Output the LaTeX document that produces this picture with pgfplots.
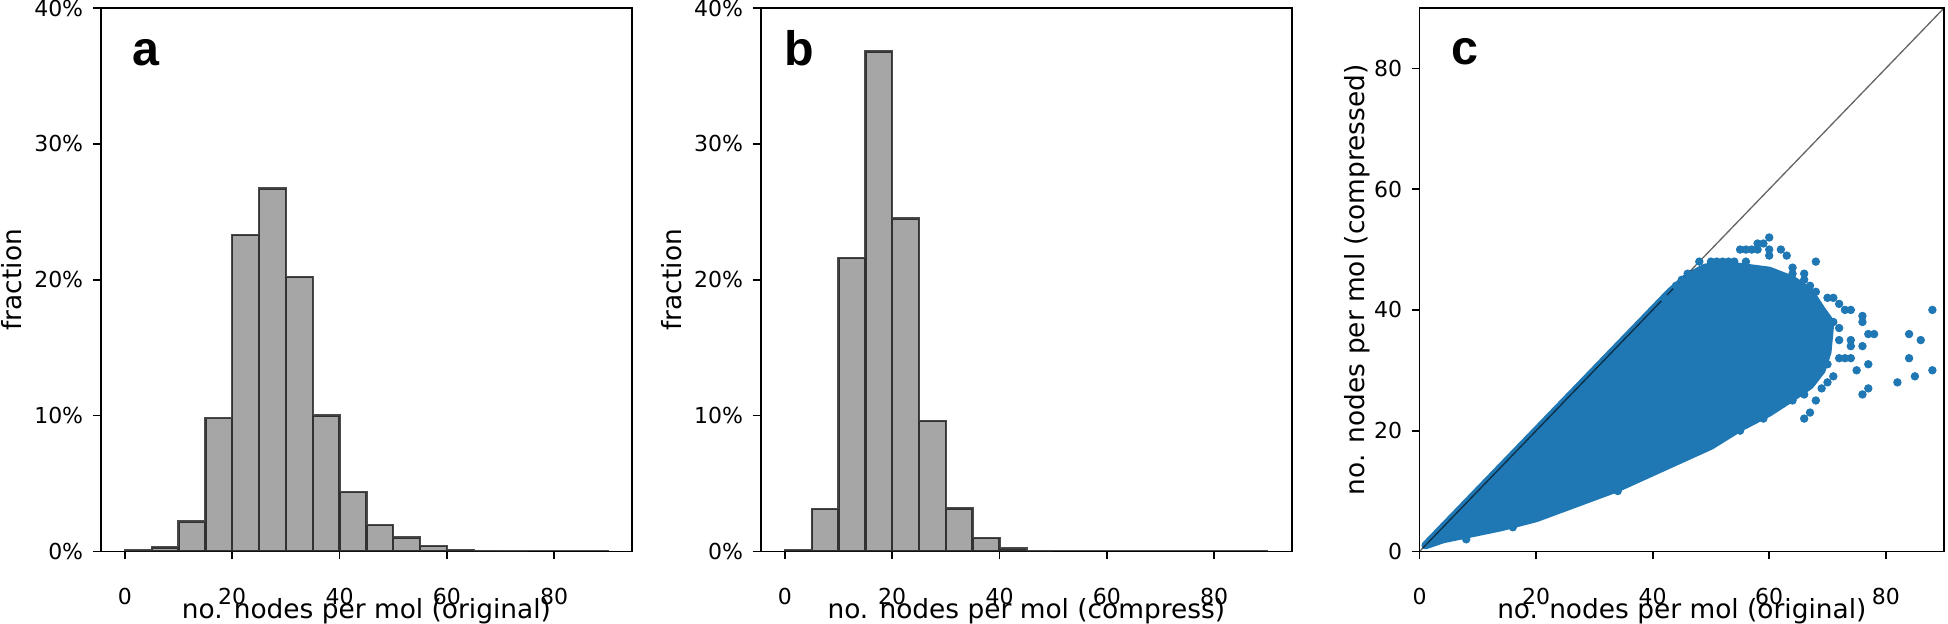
\documentclass[border=0pt]{standalone}
\usepackage{pgfplots}
\pgfplotsset{compat=1.18}
\usepackage{fontspec}
\setmainfont{DejaVu Sans}
\newfontfamily\lib{Liberation Sans}
\definecolor{tabblue}{HTML}{1F77B4}
\definecolor{barfill}{HTML}{A6A6A6}

\tikzset{letter/.style={anchor=base west, inner sep=0pt, font=\lib\bfseries\fontsize{22}{26}\selectfont}}

\pgfplotsset{
  mpl/.style={
    scale only axis,
    anchor=south west,
    axis line style={line width=0.8pt},
    every tick/.style={black, line width=0.8pt},
    tick align=outside,
    major tick length=3.5pt,
    xtick pos=bottom, ytick pos=left,
    xticklabel style={font=\fontsize{10}{12}\selectfont, inner sep=0pt, anchor=north, yshift=-12.8pt},
    yticklabel style={font=\fontsize{10}{12}\selectfont, inner sep=0pt, anchor=east, xshift=-4.3pt},
    every axis x label/.style={font=\fontsize{12}{14}\selectfont, at={([yshift=-30.6pt]axis description cs:0.5,0)}, anchor=base},
    every axis y label/.style={font=\fontsize{12}{14}\selectfont, at={([xshift=-35.95pt]axis description cs:0,0.5)}, rotate=90, anchor=base},
  },
  hist/.style={
    mpl, width=241.5pt, height=247pt,
    xmin=-4.5, xmax=94.5, ymin=0, ymax=40,
    xtick={0,20,40,60,80}, xticklabels={0,20,40,60,80},
    ytick={0,10,20,30,40}, yticklabels={0\%,10\%,20\%,30\%,40\%},
    ylabel={fraction},
  },
}

\pgfplotstableread{
x y
0 0.08
5 0.29
10 2.2
15 9.8
20 23.3
25 26.7
30 20.2
35 10.0
40 4.36
45 1.93
50 1.02
55 0.38
60 0.12
65 0.04
70 0.02
75 0.01
80 0.005
85 0.003
90 0.003
}\histA

\pgfplotstableread{
x y
0 0.1
5 3.13
10 21.6
15 36.8
20 24.5
25 9.6
30 3.16
35 1.0
40 0.2
45 0.03
50 0.01
55 0.005
60 0.002
65 0.001
70 0.001
75 0
80 0
85 0
90 0
}\histB

\begin{document}
\begin{tikzpicture}
% ---------- panel a ----------
\begin{axis}[hist, at={(45.8pt,32.95pt)},
  xlabel={no. nodes per mol (original)}]
\addplot[ybar interval, fill=barfill, draw=black, draw opacity=0.7, line width=1.1pt] table[x=x,y=y] {\histA};
\node[letter] at ([xshift=14.3pt,yshift=-26.1pt]rel axis cs:0,1) {a};
\end{axis}
% ---------- panel b ----------
\begin{axis}[hist, at={(345.8pt,32.95pt)},
  xlabel={no. nodes per mol (compress)}]
\addplot[ybar interval, fill=barfill, draw=black, draw opacity=0.7, line width=1.1pt] table[x=x,y=y] {\histB};
\node[letter] at ([xshift=10.8pt,yshift=-26.2pt]rel axis cs:0,1) {b};
\end{axis}
% ---------- panel c ----------
\begin{axis}[mpl, at={(645.3pt,32.95pt)}, width=238.4pt, height=247pt,
  xmin=0, xmax=90, ymin=0, ymax=90,
  xtick={0,20,40,60,80}, xticklabels={0,20,40,60,80},
  ytick={0,20,40,60,80}, yticklabels={0,20,40,60,80},
  every axis y label/.style={font=\fontsize{12}{14}\selectfont, at={([xshift=-25.2pt]axis description cs:0,0.5)}, rotate=90, anchor=base},
  xlabel={no. nodes per mol (original)},
  ylabel={no. nodes per mol (compressed)}]
\addplot[fill=tabblue, draw=tabblue, line width=3.64pt, line join=round] coordinates {
(1,1) (4,2) (9,3) (14,4) (20,5.5) (27,8) (34,10.5) (42,14) (50,17.5) (55,20.5)
(60,23) (64,25.5) (67,27.5) (69,30) (70,33) (70.5,38) (69,40) (67,43) (64,45)
(60,46.5) (56,47) (52,47.5) (49,47) (46,45.5) (43,43) (42,42)
} -- cycle;
\addplot[only marks, mark=*, mark size=1.7pt, color=tabblue, line width=0.4pt] coordinates {
(8,2) (16,4) (34,10) (42,42) (44,44) (45,45) (46,46) (48,48)
(50,48) (51,48) (52,48) (53,48) (54,48) (56,48)
(55,50) (56,50) (57,50) (58,50) (58,51) (59,51) (60,52) (60,50) (60,49)
(62,50) (63,49) (64,47) (64,46) (66,46) (66,45) (68,48) (67,44) (68,43)
(70,42) (71,42) (72,41) (73,40) (74,40) (76,39) (76,38) (78,36) (77,36)
(84,36) (86,35) (88,40) (84,32) (88,30) (85,29) (82,28) (77,27) (76,26)
(75,30) (77,31) (76,34) (74,35) (74,34) (72,35) (72,32) (73,32) (74,32)
(71,29) (70,28) (69,27) (68,25) (67,23) (66,22) (66,26) (64,25) (63,25)
(55,20) (56,21) (59,22) (61,24) (71,38) (72,37) (70,31) (69,33) (65,43) (62,44)
};
\addplot[black, opacity=0.6, line width=0.6pt] coordinates {(0,0) (90,90)};
\node[letter] at ([xshift=14.3pt,yshift=-25.7pt]rel axis cs:0,1) {c};
\end{axis}
\pgfresetboundingbox
\path[use as bounding box] (0,0) rectangle (885.5pt,283.6pt);
\end{tikzpicture}
\end{document}
